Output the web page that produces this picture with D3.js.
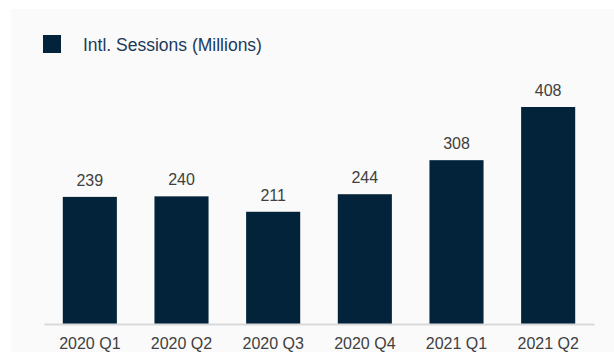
<!DOCTYPE html>
<html>
<head>
<meta charset="utf-8">
<script src="https://cdn.jsdelivr.net/npm/d3@7"></script>
<style>
  html, body { margin: 0; padding: 0; background: #ffffff; }
  svg { display: block; font-family: "Liberation Sans", Arial, sans-serif; }
</style>
</head>
<body>
<div id="chart"></div>
<script>
// chart data
const quarters = ['2020 Q1', '2020 Q2', '2020 Q3', '2020 Q4', '2021 Q1', '2021 Q2'];
const sessions = [239, 240, 211, 244, 308, 408];
const seriesName = 'Intl. Sessions (Millions)';

const width = 614;
const height = 352;
const margin = { top: 107, right: 20, bottom: 28, left: 44 };
const barColor = '#02233a';

const svg = d3.select('#chart')
  .append('svg')
  .attr('width', width)
  .attr('height', height);

// light panel behind the chart
svg.append('rect')
  .attr('x', 11)
  .attr('y', 9)
  .attr('width', width - 11)
  .attr('height', height - 9)
  .attr('fill', '#fafafa');

const baseline = height - margin.bottom;

const x = d3.scaleBand()
  .domain(quarters)
  .range([margin.left, width - margin.right])
  .paddingInner(0.41)
  .paddingOuter(0.205);

const y = d3.scaleLinear()
  .domain([0, d3.max(sessions)])
  .range([baseline, margin.top]);

const data = quarters.map((q, i) => ({ q, v: sessions[i] }));

// bars
svg.append('g')
  .selectAll('rect')
  .data(data)
  .join('rect')
  .attr('x', d => x(d.q))
  .attr('y', d => y(d.v))
  .attr('width', x.bandwidth())
  .attr('height', d => baseline - y(d.v))
  .attr('fill', barColor);

// value labels
svg.append('g')
  .selectAll('text')
  .data(data)
  .join('text')
  .attr('x', d => x(d.q) + x.bandwidth() / 2)
  .attr('y', d => y(d.v) - 11)
  .attr('text-anchor', 'middle')
  .attr('fill', '#404040')
  .style('font-size', '16px')
  .text(d => d.v);

// x axis
const xAxis = svg.append('g')
  .attr('transform', `translate(0,${baseline})`)
  .call(d3.axisBottom(x).tickSize(0).tickPadding(14));

xAxis.select('.domain')
  .attr('stroke', '#d9d9d9')
  .attr('stroke-width', 2);

xAxis.selectAll('text')
  .attr('fill', '#404040')
  .attr('dy', '0.71em')
  .style('font-size', '16px')
  .style('font-family', '"Liberation Sans", Arial, sans-serif');

// legend
const legend = svg.append('g');
legend.append('rect')
  .attr('x', 43)
  .attr('y', 35)
  .attr('width', 18)
  .attr('height', 18)
  .attr('fill', barColor);
legend.append('text')
  .attr('x', 83)
  .attr('y', 51)
  .attr('fill', '#1c3b5a')
  .style('font-size', '17.5px')
  .text(seriesName);
</script>
</body>
</html>
